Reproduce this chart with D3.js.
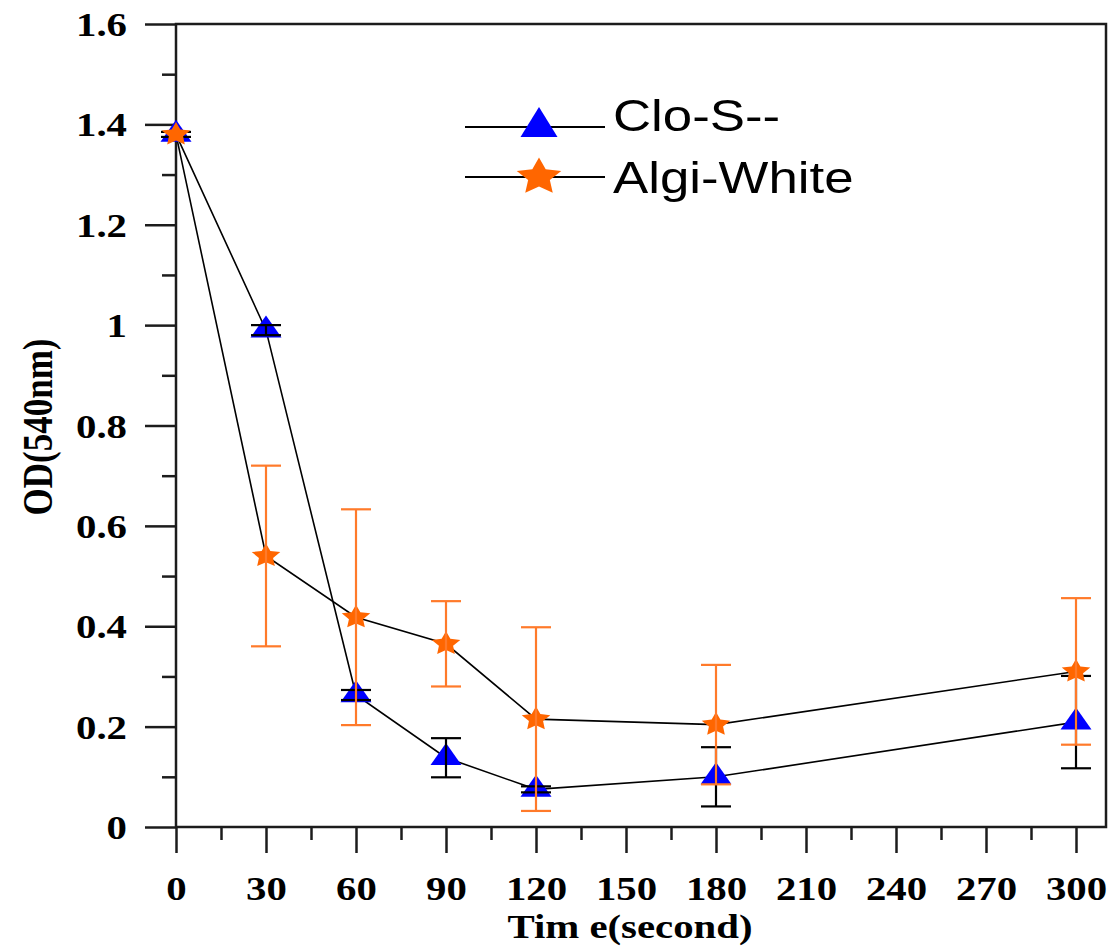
<!DOCTYPE html>
<html>
<head>
<meta charset="utf-8">
<script src="https://cdn.jsdelivr.net/npm/d3@7"></script>
<style>
  body { margin: 0; background: #fff; }
</style>
</head>
<body>
<svg id="chart"></svg>
<script>
// values
const times = [0, 30, 60, 90, 120, 180, 300];
const cloS = [1.38, 0.99, 0.263, 0.138, 0.075, 0.10, 0.209];
const cloSErr = [0.005, 0.01, 0.01, 0.039, 0.006, 0.059, 0.092];
const algi = [1.38, 0.54, 0.418, 0.365, 0.215, 0.204, 0.31];
const algiErr = [0, 0.18, 0.215, 0.085, 0.183, 0.119, 0.146];
const seriesNames = ['Clo-S--', 'Algi-White'];
const xTicks = [0, 30, 60, 90, 120, 150, 180, 210, 240, 270, 300];
const xMinor = [15, 45, 75, 105, 135, 165, 195, 225, 255, 285];
const yTicks = [0, 0.2, 0.4, 0.6, 0.8, 1, 1.2, 1.4, 1.6];
const yMinor = [0.1, 0.3, 0.5, 0.7, 0.9, 1.1, 1.3, 1.5];

const width = 1111;
const height = 947;
const colors = {
    tri: '#0000ff',
    star: '#ff6600',
    starErr: '#ff7a2a',
    ink: '#1c1c1c'
};
const serif = '"Liberation Serif", "Times New Roman", serif';
const sans = '"Liberation Sans", Arial, sans-serif';

const x = d3.scaleLinear().domain([0, 300]).range([176, 1076]);
const y = d3.scaleLinear().domain([0, 1.6]).range([827, 24]);

const svg = d3.select('#chart')
    .attr('width', width)
    .attr('height', height);

// marker shapes
const triPath = (w, h) => `M0,${-2 * h / 3}L${w / 2},${h / 3}L${-w / 2},${h / 3}Z`;
const starPath = (R, r) => {
    const pts = [];
    for (let i = 0; i < 10; i++) {
        const a = -Math.PI / 2 + i * Math.PI / 5;
        const rad = i % 2 === 0 ? R : r;
        pts.push([rad * Math.cos(a), rad * Math.sin(a)]);
    }
    return 'M' + pts.map(p => p.join(',')).join('L') + 'Z';
};

// frame
svg.append('rect')
    .attr('x', x(0)).attr('y', y(1.6))
    .attr('width', 1106 - x(0)).attr('height', y(0) - y(1.6))
    .attr('fill', 'none')
    .attr('stroke', colors.ink)
    .attr('stroke-width', 2.5);

// x axis
const xAxis = svg.append('g')
    .attr('transform', `translate(0,${y(0)})`)
    .call(d3.axisBottom(x).tickValues(xTicks).tickSize(26).tickSizeOuter(0).tickFormat(d => String(d)));
svg.append('g')
    .attr('transform', `translate(0,${y(0)})`)
    .call(d3.axisBottom(x).tickValues(xMinor).tickSize(13).tickSizeOuter(0).tickFormat(''));

// y axis
const yAxis = svg.append('g')
    .attr('transform', `translate(${x(0)},0)`)
    .call(d3.axisLeft(y).tickValues(yTicks).tickSize(31).tickSizeOuter(0).tickFormat(d => String(d)));
svg.append('g')
    .attr('transform', `translate(${x(0)},0)`)
    .call(d3.axisLeft(y).tickValues(yMinor).tickSize(14).tickSizeOuter(0).tickFormat(''));

svg.selectAll('.domain').remove();
svg.selectAll('.tick line').attr('stroke', colors.ink).attr('stroke-width', 2.5);

xAxis.selectAll('text')
    .attr('x', 0).attr('y', 0).attr('dy', null)
    .attr('transform', 'translate(0,73) scale(1.2,1)')
    .attr('fill', '#000')
    .style('font', `bold 34px ${serif}`);

yAxis.selectAll('text')
    .attr('x', 0).attr('dy', '0.34em')
    .attr('transform', 'translate(-49,0) scale(1.2,1)')
    .attr('fill', '#000')
    .style('font', `bold 34px ${serif}`);

// axis titles
svg.append('text')
    .attr('transform', 'translate(630,938) scale(1.2,1)')
    .attr('text-anchor', 'middle')
    .style('font', `bold 34px ${serif}`)
    .text('Tim e(second)');

svg.append('text')
    .attr('transform', 'translate(52,427) scale(1.2,1) rotate(-90)')
    .attr('text-anchor', 'middle')
    .style('font', `bold 35px ${serif}`)
    .text('OD(540nm)');

// connecting lines
const line = d3.line().x(d => x(d[0])).y(d => y(d[1]));
[cloS, algi].forEach(vals => {
    svg.append('path')
        .datum(times.map((t, i) => [t, vals[i]]))
        .attr('d', line)
        .attr('fill', 'none')
        .attr('stroke', '#000')
        .attr('stroke-width', 1.6);
});

const errBars = (vals, errs, color) => {
    const g = svg.append('g')
        .attr('stroke', color)
        .attr('stroke-width', 2.2);
    times.forEach((t, i) => {
        if (!errs[i]) return;
        const cx = x(t);
        const top = y(vals[i] + errs[i]);
        const bot = y(vals[i] - errs[i]);
        g.append('line').attr('x1', cx).attr('x2', cx).attr('y1', top).attr('y2', bot);
        g.append('line').attr('x1', cx - 15).attr('x2', cx + 15).attr('y1', top).attr('y2', top);
        g.append('line').attr('x1', cx - 15).attr('x2', cx + 15).attr('y1', bot).attr('y2', bot);
    });
};

// triangles
svg.append('g').selectAll('path')
    .data(times)
    .join('path')
    .attr('d', triPath(31, 22))
    .attr('transform', (t, i) => `translate(${x(t)},${y(cloS[i])})`)
    .attr('fill', colors.tri);

errBars(cloS, cloSErr, '#000');

// stars
svg.append('g').selectAll('path')
    .data(times)
    .join('path')
    .attr('d', starPath(12.5, 6.2))
    .attr('transform', (t, i) => `translate(${x(t)},${y(algi[i])}) scale(1.2,1)`)
    .attr('fill', colors.star);

errBars(algi, algiErr, colors.starErr);

// legend
const legend = svg.append('g');
const legendRows = [
    { name: seriesNames[0], ly: 127, ty: 131, shape: triPath(37, 30), tf: '', color: colors.tri },
    { name: seriesNames[1], ly: 177, ty: 193, shape: starPath(19.5, 9.5), tf: ' scale(1.2,1)', color: colors.star }
];
legendRows.forEach(r => {
    legend.append('line')
        .attr('x1', 465).attr('x2', 605)
        .attr('y1', r.ly).attr('y2', r.ly)
        .attr('stroke', '#000')
        .attr('stroke-width', 2);
    legend.append('path')
        .attr('d', r.shape)
        .attr('transform', `translate(539,${r.ly})${r.tf}`)
        .attr('fill', r.color);
    legend.append('text')
        .attr('transform', `translate(613,${r.ty}) scale(1.2,1)`)
        .style('font', `44px ${sans}`)
        .attr('fill', '#000')
        .text(r.name);
});
</script>
</body>
</html>
